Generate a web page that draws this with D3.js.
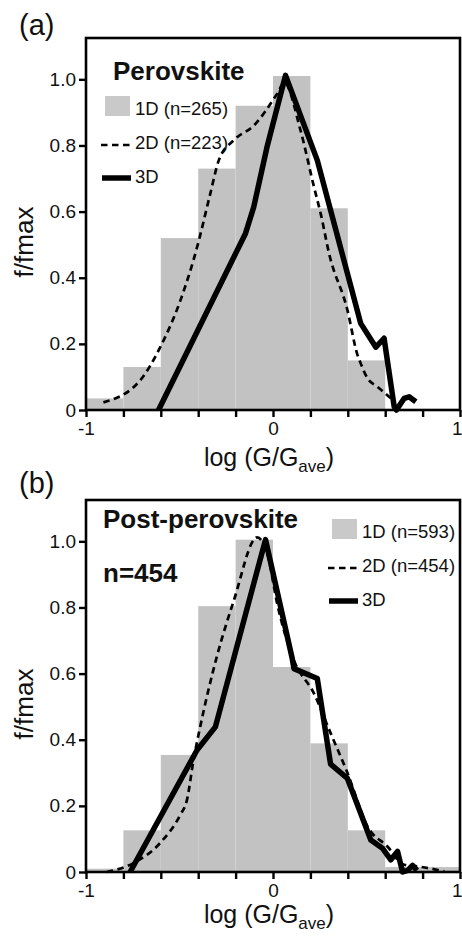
<!DOCTYPE html>
<html>
<head>
<meta charset="utf-8">
<script src="https://cdn.jsdelivr.net/npm/d3@7"></script>
<style>
  body { margin: 0; background: #fff; }
  svg { display: block; font-family: "Liberation Sans", Arial, Helvetica, sans-serif; }
</style>
</head>
<body>
<div class="chart"></div>
<script>
// histogram bins (lower edges, width 0.2)
let binLo = [-1, -0.8, -0.6, -0.4, -0.2, 0, 0.2, 0.4, 0.6, 0.8]
let binW = 0.2
let xTicks = [-1, -0.8, -0.6, -0.4, -0.2, 0, 0.2, 0.4, 0.6, 0.8, 1]
let yTicks = [0, 0.2, 0.4, 0.6, 0.8, 1.0]

// (a) perovskite
let perov1D = [0.035, 0.13, 0.52, 0.73, 0.92, 1.01, 0.61, 0.15, 0, 0]
let perov2D = [[-0.907, 0.023], [-0.71, 0.09], [-0.603, 0.19], [-0.496, 0.33], [-0.407, 0.49],
  [-0.335, 0.655], [-0.29, 0.755], [-0.21, 0.816], [-0.103, 0.86], [0.023, 0.957], [0.06, 0.99],
  [0.147, 0.846], [0.219, 0.675], [0.255, 0.594], [0.3, 0.473], [0.398, 0.302], [0.45, 0.17],
  [0.469, 0.141], [0.505, 0.096], [0.559, 0.07], [0.621, 0.04], [0.64, 0.03]]
let perov3D = [[-0.612, 0], [-0.147, 0.534], [-0.103, 0.614], [-0.03, 0.8], [0.067, 1.012],
  [0.237, 0.755], [0.469, 0.262], [0.55, 0.19], [0.594, 0.217], [0.648, 0.01], [0.66, 0],
  [0.701, 0.035], [0.728, 0.04], [0.764, 0.025]]

// (b) post-perovskite
let post1D = [0.01, 0.126, 0.354, 0.804, 1.005, 0.62, 0.389, 0.126, 0.015, 0.015]
let post2D = [[-0.889, 0], [-0.746, 0.027], [-0.6, 0.09], [-0.496, 0.173], [-0.46, 0.218],
  [-0.425, 0.339], [-0.389, 0.44], [-0.301, 0.65], [-0.21, 0.82], [-0.085, 1.012], [-0.03, 0.962],
  [0.023, 0.81], [0.112, 0.64], [0.219, 0.54], [0.308, 0.42], [0.398, 0.3], [0.505, 0.138],
  [0.612, 0.077], [0.701, 0.022], [0.773, 0.017], [0.916, 0.002]]
let post3D = [[-0.764, 0], [-0.406, 0.369], [-0.308, 0.439], [-0.04, 1.005], [0.103, 0.645],
  [0.112, 0.615], [0.237, 0.585], [0.308, 0.326], [0.398, 0.283], [0.523, 0.097], [0.585, 0.072],
  [0.63, 0.037], [0.666, 0.062], [0.693, 0], [0.72, 0.005], [0.746, 0.02], [0.77, 0.005]]

let width = 462, height = 937
let svg = d3.select(".chart").append("svg")
  .attr("width", width)
  .attr("height", height)

function panel(cfg) {
  let x = d3.scaleLinear().domain([-1, 1]).range([86, 460])
  let y = d3.scaleLinear().domain([0, 1.125]).range([cfg.bottom, cfg.bottom - 372])
  let g = svg.append("g")

  // 1D bars
  g.append("g")
    .selectAll("rect")
    .data(cfg.hist)
    .enter()
    .append("rect")
    .attr("x", (d, i) => x(binLo[i]))
    .attr("width", (d, i) => x(binLo[i] + binW) - x(binLo[i]))
    .attr("y", d => y(d))
    .attr("height", d => y(0) - y(d))
    .attr("fill", "#c2c2c2")

  let line = d3.line().x(d => x(d[0])).y(d => y(d[1]))
  // 2D dashed
  g.append("path")
    .datum(cfg.d2)
    .attr("d", line.curve(d3.curveMonotoneX))
    .attr("fill", "none")
    .attr("stroke", "#000")
    .attr("stroke-width", 2.7)
    .attr("stroke-dasharray", "6.5,4.5")
  // 3D solid
  g.append("path")
    .datum(cfg.d3)
    .attr("d", line.curve(d3.curveLinear))
    .attr("fill", "none")
    .attr("stroke", "#000")
    .attr("stroke-width", 5.5)
    .attr("stroke-linejoin", "round")

  // frame
  g.append("rect")
    .attr("x", x(-1))
    .attr("y", y(1.125))
    .attr("width", x(1) - x(-1))
    .attr("height", y(0) - y(1.125))
    .attr("fill", "none")
    .attr("stroke", "#000")
    .attr("stroke-width", 2.6)

  // axes
  let xAxis = g.append("g")
    .attr("transform", `translate(0,${y(0)})`)
    .call(d3.axisBottom(x).tickValues(xTicks).tickSize(7).tickPadding(5)
      .tickFormat(d => Math.abs(d) < 1e-9 ? "0" : (Math.abs(Math.abs(d) - 1) < 1e-9 ? (d < 0 ? "-1" : "1") : "")))
  let yAxis = g.append("g")
    .attr("transform", `translate(${x(-1)},0)`)
    .call(d3.axisLeft(y).tickValues(yTicks).tickSize(7).tickPadding(3)
      .tickFormat(d => d == 0 ? "0" : d.toFixed(1)))
  ;[xAxis, yAxis].forEach(a => {
    a.select(".domain").remove()
    a.selectAll("line").attr("stroke-width", 2.4)
    a.selectAll("text").attr("font-size", 19).attr("fill", "#111").attr("font-family", null)
  })
  // the "1" label sits at the right edge of the picture
  xAxis.selectAll("text").filter(d => d == 1).attr("text-anchor", "end").attr("dx", 2)

  // axis titles
  g.append("text")
    .attr("transform", `translate(33,${cfg.bottom - 168}) rotate(-90)`)
    .attr("text-anchor", "middle")
    .attr("font-size", 26)
    .attr("fill", "#111")
    .text("f/fmax")
  let xt = g.append("text")
    .attr("x", 269)
    .attr("y", cfg.xTitleY)
    .attr("text-anchor", "middle")
    .attr("font-size", 25)
    .attr("fill", "#111")
  xt.append("tspan").text("log (G/G")
  xt.append("tspan").attr("font-size", 17).attr("dy", 6).text("ave")
  xt.append("tspan").attr("dy", -6).text(")")

  // panel letter
  g.append("text")
    .attr("x", 19)
    .attr("y", cfg.letterY)
    .attr("font-size", 29)
    .attr("fill", "#111")
    .text(cfg.letter)

  // titles
  cfg.titles.forEach(t => {
    g.append("text")
      .attr("x", t.x)
      .attr("y", t.y)
      .attr("font-size", 26)
      .attr("font-weight", "bold")
      .attr("fill", "#111")
      .text(t.text)
  })

  // legend
  let lg = cfg.legend
  g.append("rect")
    .attr("x", lg.x + 4)
    .attr("y", lg.y - 20)
    .attr("width", 25)
    .attr("height", 20)
    .attr("fill", "#c9c9c9")
  g.append("line")
    .attr("x1", lg.x).attr("x2", lg.x + 30)
    .attr("y1", lg.y + 29).attr("y2", lg.y + 29)
    .attr("stroke", "#000").attr("stroke-width", 2.7).attr("stroke-dasharray", "6.5,4.5")
  g.append("line")
    .attr("x1", lg.x + 1).attr("x2", lg.x + 30)
    .attr("y1", lg.y + 62).attr("y2", lg.y + 62)
    .attr("stroke", "#000").attr("stroke-width", 5.5)
  lg.labels.forEach((s, i) => {
    g.append("text")
      .attr("x", lg.x + 34)
      .attr("y", lg.y - 1 + i * 34)
      .attr("font-size", 18.5)
      .attr("fill", "#111")
      .text(s)
  })
}

panel({
  bottom: 410, hist: perov1D, d2: perov2D, d3: perov3D,
  letter: "(a)", letterY: 35, xTitleY: 466,
  titles: [{ text: "Perovskite", x: 113, y: 80 }],
  legend: { x: 101, y: 116, labels: ["1D (n=265)", "2D (n=223)", "3D"] }
})
panel({
  bottom: 872, hist: post1D, d2: post2D, d3: post3D,
  letter: "(b)", letterY: 493, xTitleY: 923,
  titles: [{ text: "Post-perovskite", x: 103, y: 528 }, { text: "n=454", x: 103, y: 582 }],
  legend: { x: 328, y: 539, labels: ["1D (n=593)", "2D (n=454)", "3D"] }
})
</script>
</body>
</html>
